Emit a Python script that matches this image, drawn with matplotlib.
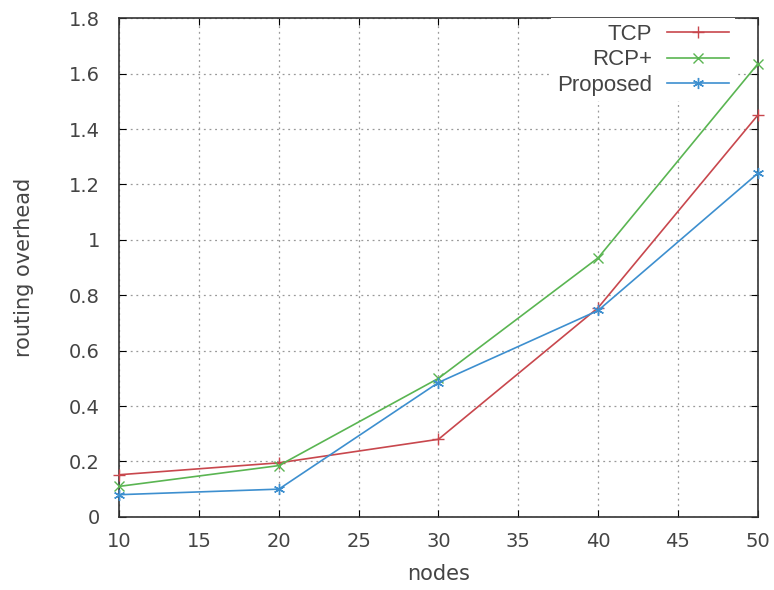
import matplotlib
matplotlib.use("Agg")
import matplotlib.pyplot as plt

nodes = [10, 20, 30, 40, 50]
tcp = [0.152, 0.195, 0.28, 0.755, 1.45]
rcp = [0.11, 0.185, 0.50, 0.935, 1.635]
proposed = [0.08, 0.10, 0.485, 0.745, 1.24]
series_names = ["TCP", "RCP+", "Proposed"]
xticks = [10, 15, 20, 25, 30, 35, 40, 45, 50]
yticks = [0, 0.2, 0.4, 0.6, 0.8, 1.0, 1.2, 1.4, 1.6, 1.8]
yticklabels = ["0", "0.2", "0.4", "0.6", "0.8", "1", "1.2", "1.4", "1.6", "1.8"]

plt.rcParams['font.family'] = ['DejaVu Sans']
fig = plt.figure(figsize=(7.74, 5.9), dpi=100)
ax = fig.add_axes([0.154, 0.124, 0.825, 0.845])

ax.plot(nodes, tcp, color="#c8474d", marker="+", markersize=9, lw=1.2,
        label=series_names[0], zorder=6, clip_on=False)
ax.plot(nodes, rcp, color="#5ab552", marker="x", markersize=7, lw=1.2,
        label=series_names[1], zorder=6, clip_on=False)
ax.plot(nodes, proposed, color="#3d8fcf", marker=(6, 2, 0), markersize=8, lw=1.2,
        label=series_names[2], zorder=6, clip_on=False)

ax.set_xlim(10, 50)
ax.set_ylim(0, 1.8)
ax.set_xticks(xticks)
ax.set_yticks(yticks)
ax.set_yticklabels(yticklabels)
ax.grid(True, linestyle=(0, (1.5, 3)), color="#999999", lw=0.9)
ax.tick_params(direction="in", top=True, right=True, length=5, labelsize=14,
               labelcolor="#444444")
ax.tick_params(axis="y", pad=14)
ax.tick_params(axis="x", pad=11)
for s in ax.spines.values():
    s.set_color("#333333")
    s.set_linewidth(1.2)

ax.set_xlabel("nodes", fontsize=15, color="#444444", labelpad=9)
ax.set_ylabel("routing overhead", fontsize=15, color="#444444", labelpad=25)

leg = ax.legend(loc="upper right", bbox_to_anchor=(0.964, 1.0), markerfirst=False,
                frameon=True, prop={"family": "Liberation Sans", "size": 16},
                handlelength=2.8, borderaxespad=0,
                labelspacing=0.2, borderpad=0.25, handletextpad=0.68)
leg.set_zorder(5)
leg.get_frame().set_edgecolor("none")
leg.get_frame().set_facecolor("white")
leg.get_frame().set_alpha(1)
leg.get_frame().set_boxstyle("square", pad=0)
for t in leg.get_texts():
    t.set_color("#444444")

fig.savefig("out.png", dpi=100)
